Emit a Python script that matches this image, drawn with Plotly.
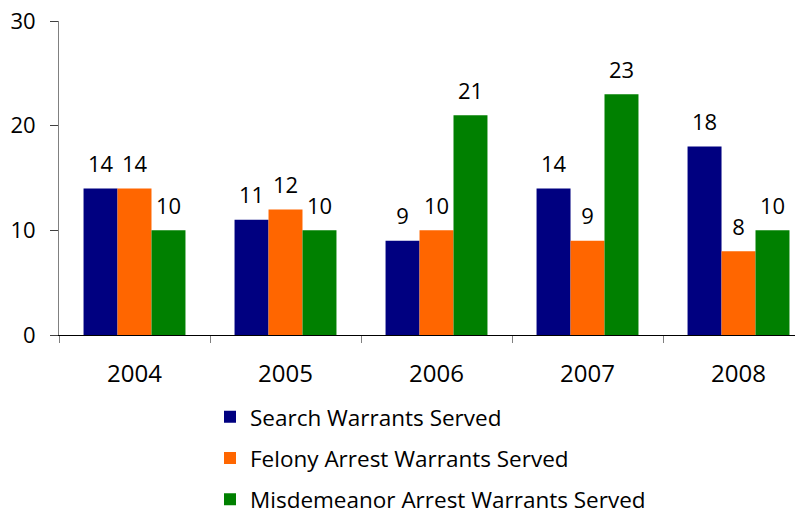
import plotly.graph_objects as go

years = ["2004", "2005", "2006", "2007", "2008"]
search = [14, 11, 9, 14, 18]
felony = [14, 12, 10, 9, 8]
misdemeanor = [10, 10, 21, 23, 10]

series = [
    ("Search Warrants Served", search, "#000080"),
    ("Felony Arrest Warrants Served", felony, "#FF6600"),
    ("Misdemeanor Arrest Warrants Served", misdemeanor, "#008000"),
]

FONT = "Open Sans"
FS = 22

fig = go.Figure()
for i, (name, vals, color) in enumerate(series):
    fig.add_trace(
        go.Bar(
            x=years,
            y=vals,
            name=name,
            marker=dict(color=color, line=dict(width=0)),
            offsetgroup=str(i),
            legendgroup=str(i),
        )
    )
# value labels, placed with the bars through scattermode="group"
for i, (name, vals, color) in enumerate(series):
    fig.add_trace(
        go.Scatter(
            x=years,
            y=vals,
            mode="markers+text",
            text=[str(v) for v in vals],
            textposition="top center",
            textfont=dict(family=FONT, size=FS, color="black"),
            marker=dict(size=16, opacity=0),
            offsetgroup=str(i),
            showlegend=False,
            hoverinfo="skip",
            cliponaxis=False,
        )
    )

# the page body adds an 8px offset, margins below allow for it
fig.update_layout(
    width=803,
    height=515,
    margin=dict(l=51, r=0, t=13, b=188, autoexpand=False),
    paper_bgcolor="white",
    plot_bgcolor="white",
    barmode="group",
    scattermode="group",
    bargap=0.325,
    bargroupgap=0,
    font=dict(family=FONT, size=FS, color="black"),
    legend=dict(
        orientation="v",
        x=0.2008,
        xanchor="left",
        y=-0.193,
        yanchor="top",
        tracegroupgap=9,
        font=dict(size=22.5),
        bgcolor="rgba(0,0,0,0)",
    ),
    showlegend=True,
)
fig.update_xaxes(
    type="category",
    range=[-0.5, 4.48],
    showline=True,
    linecolor="black",
    linewidth=1,
    ticks="outside",
    tickson="boundaries",
    ticklen=7,
    tickcolor="#808080",
    ticklabelstandoff=17,
    tickfont=dict(size=24),
    showgrid=False,
    automargin=False,
)
fig.update_yaxes(
    range=[0, 30],
    tickvals=[0, 10, 20, 30],
    showline=True,
    linecolor="#808080",
    linewidth=1,
    ticks="outside",
    ticklen=8,
    tickcolor="#404040",
    ticklabelstandoff=10,
    ticklabeloverflow="allow",
    showgrid=False,
    zeroline=False,
    automargin=False,
)

fig.write_html("out.html")
